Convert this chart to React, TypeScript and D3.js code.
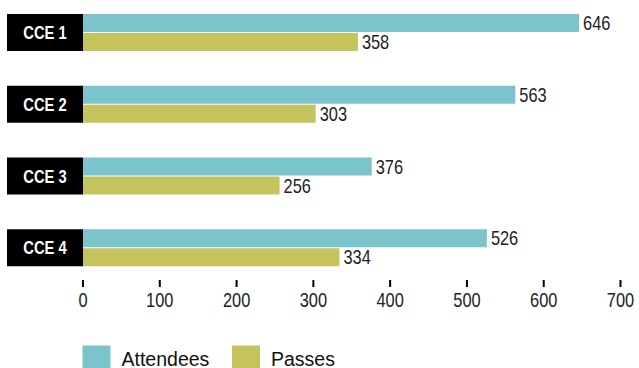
import React from "react";
import * as d3 from "d3";

const categories = ["CCE 1", "CCE 2", "CCE 3", "CCE 4"];
const attendees = [646, 563, 376, 526];
const passes = [358, 303, 256, 334];
const ticks = [0, 100, 200, 300, 400, 500, 600, 700];
const seriesNames = ["Attendees", "Passes"];
const seriesColors = ["#7bc4cc", "#c5c45c"];

const W = 639;
const H = 368;
const FONT = "'Liberation Sans', Arial, sans-serif";

// Horizontally condensed text, anchored at (x, y)
function Narrow(props: {
  x: number;
  y: number;
  anchor?: "start" | "middle" | "end";
  size: number;
  fill: string;
  bold?: boolean;
  children: React.ReactNode;
}) {
  return (
    <text
      transform={`translate(${props.x},${props.y}) scale(0.82,1)`}
      textAnchor={props.anchor || "start"}
      fill={props.fill}
      fontFamily={FONT}
      fontWeight={props.bold ? "bold" : "normal"}
      fontSize={props.size}
    >
      {props.children}
    </text>
  );
}

export default function App() {
  const x = d3.scaleLinear().domain([0, 700]).range([83, 620.5]);
  const y = d3.scaleBand().domain(categories).range([14, 301]).paddingInner(0);
  const groupH = 37;
  const barH = 18;

  return (
    <svg
      width={W}
      height={H}
      style={{ position: "absolute", left: 0, top: 0, display: "block" }}
    >
      <rect x={0} y={0} width={W} height={H} fill="#fff" />
      {categories.map((c, i) => {
        const top = y(c)!;
        const vals = [attendees[i], passes[i]];
        return (
          <g key={c}>
            <rect x={7} y={top} width={x(0) - 7} height={groupH} fill="#000" />
            <Narrow x={45} y={top + groupH / 2 + 6.5} anchor="middle" fill="#fff" size={18} bold>
              {c}
            </Narrow>
            {vals.map((v, j) => {
              const by = top + j * (barH + 1);
              return (
                <g key={j}>
                  <rect
                    x={x(0)}
                    y={by}
                    width={x(v) - x(0)}
                    height={barH}
                    fill={seriesColors[j]}
                  />
                  <Narrow x={x(v) + 4} y={by + barH / 2 + 7} fill="#222" size={20}>
                    {v}
                  </Narrow>
                </g>
              );
            })}
          </g>
        );
      })}
      {ticks.map((t) => (
        <g key={t}>
          <rect x={x(t) - 1} y={280} width={2} height={7} fill="#000" />
          <Narrow x={x(t)} y={307} anchor="middle" fill="#222" size={20}>
            {t}
          </Narrow>
        </g>
      ))}
      {seriesNames.map((s, i) => {
        const lx = i === 0 ? 82.5 : 232;
        return (
          <g key={s}>
            <rect x={lx} y={345.5} width={28} height={23} fill={seriesColors[i]} />
            <text x={lx + 39} y={366} fill="#111" fontFamily={FONT} fontSize={19.5}>
              {s}
            </text>
          </g>
        );
      })}
    </svg>
  );
}
